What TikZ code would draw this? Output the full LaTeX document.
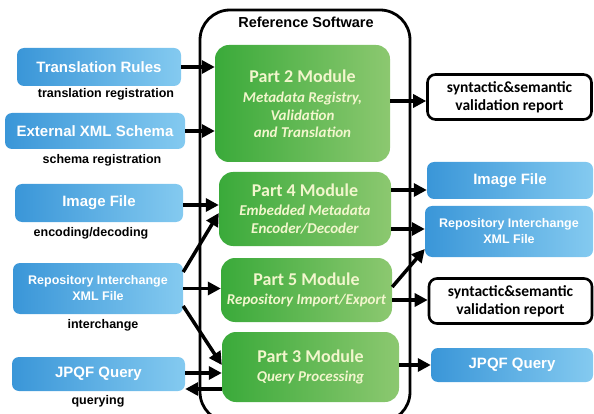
\documentclass[tikz,border=0pt]{standalone}
\usepackage{fontspec}
\setmainfont{Liberation Sans}
\newfontfamily\calfont{Carlito}
\usetikzlibrary{arrows.meta,calc}
\definecolor{bL}{RGB}{58,150,216}
\definecolor{bR}{RGB}{132,202,240}
\definecolor{gL}{RGB}{58,170,58}
\definecolor{gR}{RGB}{140,200,112}
\definecolor{gText}{RGB}{242,246,205}
\tikzset{
  bbox/.style={rounded corners=7pt, left color=bL, right color=bR, draw=none, text=white, align=center, inner sep=0pt, font=\bfseries\fontsize{15}{17}\selectfont},
  bsmall/.style={font=\bfseries\fontsize{12.5}{16}\selectfont},
  gbox/.style={rounded corners=14pt, left color=gL, right color=gR, draw=none, text=gText, align=center, inner sep=0pt, font=\calfont\bfseries\itshape\fontsize{15}{17.5}\selectfont},
  wbox/.style={rounded corners=8pt, draw=black, line width=2.6pt, fill=white, align=center, inner sep=0pt, font=\calfont\bfseries\fontsize{15.5}{18}\selectfont},
  lbl/.style={font=\bfseries\fontsize{12.5}{14}\selectfont, inner sep=0pt},
  arr/.style={line width=3.5pt, -{Triangle[length=13pt,width=13pt]}}
}
\newcommand{\ptt}[1]{{\upshape\fontsize{18}{20}\selectfont #1}}
\begin{document}
\begin{tikzpicture}[x=1pt,y=-1pt]
\useasboundingbox (0,0) rectangle (594,414);
% big container
\draw[line width=2.8pt, rounded corners=30pt] (200,10) rectangle (410,422);
\node[font=\bfseries\fontsize{14.5}{16}\selectfont, inner sep=0pt] (title) at (306,22) {Reference Software};

% left boxes
\node[bbox, minimum width=164pt, minimum height=38pt] (L1) at (99,67) {Translation Rules};
\node[bbox, minimum width=180pt, minimum height=36pt] (L2) at (95,131) {External XML Schema};
\node[bbox, minimum width=168pt, minimum height=38pt] (L3) at (99,203) {Image File};
\node[bbox, bsmall, minimum width=170pt, minimum height=51pt] (L4) at (98,288.5) {Repository Interchange\\XML File};
\node[bbox, minimum width=173pt, minimum height=34pt] (L5) at (98.5,374) {JPQF Query};

\node[lbl] (t1) at (106,94) {translation registration};
\node[lbl] (t2) at (102,160) {schema registration};
\node[lbl] (t3) at (91,233) {encoding/decoding};
\node[lbl] (t4) at (103,325) {interchange};
\node[lbl] (t5) at (98,401) {querying};

% green modules
\node[gbox, minimum width=175pt, minimum height=117pt] (P2) at (302.5,103.5)
  {\ptt{Part 2 Module}\\[3pt]Metadata Registry,\\Validation\\and Translation};
\node[gbox, minimum width=172pt, minimum height=74pt] (P4) at (305,209)
  {\ptt{Part 4 Module}\\[2pt]Embedded Metadata\\Encoder/Decoder};
\node[gbox, minimum width=171pt, minimum height=64pt] (P5) at (306.5,290)
  {\ptt{Part 5 Module}\\[2pt]Repository Import/Export};
\node[gbox, minimum width=177pt, minimum height=70pt] (P3) at (310.5,367)
  {\ptt{Part 3 Module}\\[2pt]Query Processing};

% right boxes
\node[wbox, minimum width=164pt, minimum height=45pt] (R1) at (509.5,97) {syntactic\&semantic\\validation report};
\node[bbox, minimum width=166pt, minimum height=37pt] (R2) at (510,180.5) {Image File};
\node[bbox, bsmall, minimum width=168pt, minimum height=51pt] (R3) at (509,231.5) {Repository Interchange\\XML File};
\node[wbox, minimum width=163pt, minimum height=45pt] (R4) at (510.5,301) {syntactic\&semantic\\validation report};
\node[bbox, minimum width=162pt, minimum height=34pt] (R5) at (512,365) {JPQF Query};

% arrows left -> modules
\draw[arr] (L1.east) -- (L1.east -| P2.west);
\draw[arr] (L2.east) -- (L2.east -| P2.west);
\draw[arr] ([yshift=-2pt]L3.east) -- ([yshift=-2pt]L3.east -| P4.west);
\draw[arr] ([yshift=16.5pt]L4.east) -- ([yshift=-4pt]P4.west);
\draw[arr] (L4.east) -- (L4.east -| P5.west);
\draw[arr] ([yshift=-17.5pt]L4.east) -- ([yshift=2pt]P3.west);
\draw[arr] ([yshift=1pt]L5.east) -- ([yshift=1pt]L5.east -| P3.west);
\draw[arr] ([yshift=-15pt]L5.east -| P3.west) -- ([yshift=-15pt]L5.east);

% arrows modules -> right
\draw[arr] ([yshift=-4pt]R1.west -| P2.east) -- ([yshift=-4pt]R1.west);
\draw[arr] ([yshift=-9.5pt]R2.west -| P4.east) -- ([yshift=-9.5pt]R2.west);
\draw[arr] ([yshift=2.5pt]R3.west -| P4.east) -- ([yshift=2.5pt]R3.west);
\draw[arr] ([yshift=3pt]P5.east) -- ([yshift=-17.5pt]R3.west);
\draw[arr] ([yshift=1pt]R4.west -| P5.east) -- ([yshift=1pt]R4.west);
\draw[arr] (R5.west -| P3.east) -- (R5.west);
\end{tikzpicture}
\end{document}
